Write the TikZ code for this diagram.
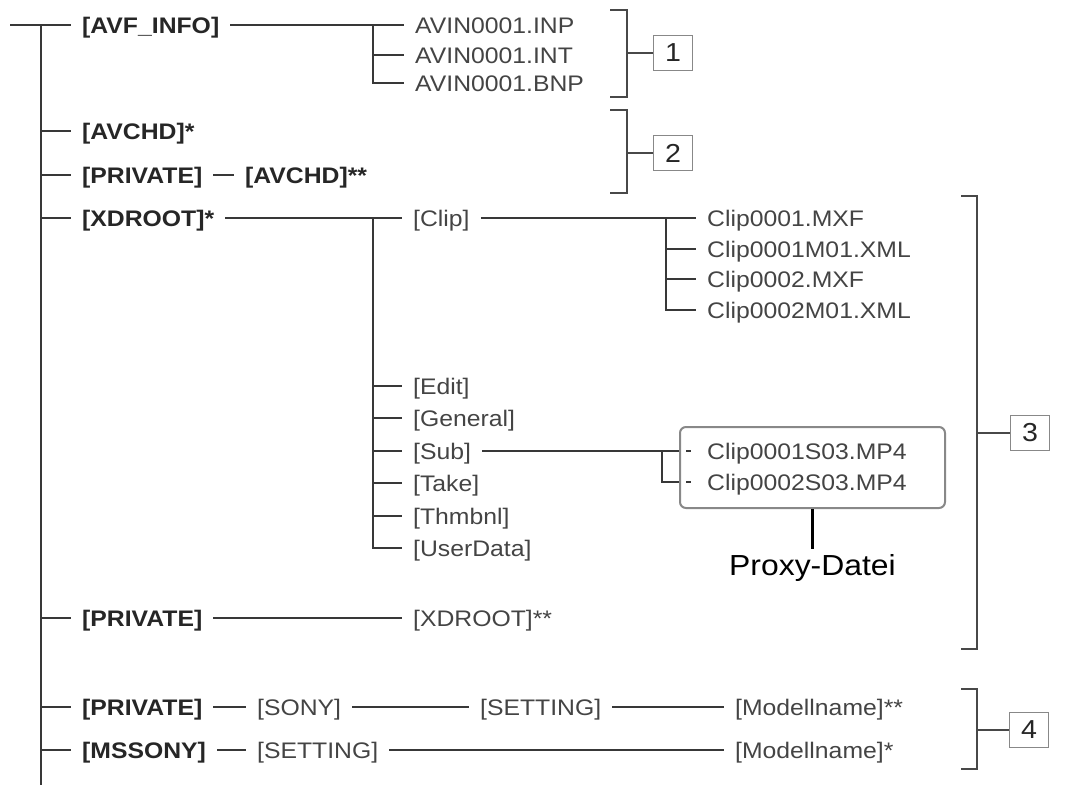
\documentclass[tikz,border=0pt]{standalone}
\usepackage{fontspec}
\setmainfont{Liberation Sans}[FakeStretch=1.1]
\usetikzlibrary{calc}
\definecolor{ink}{HTML}{262626}
\definecolor{grayt}{HTML}{444444}
\definecolor{lne}{HTML}{383838}
\definecolor{brkc}{HTML}{484848}
\definecolor{boxc}{HTML}{888888}
\begin{document}
\begin{tikzpicture}[x=1pt,y=-1pt,
  lbl/.style={anchor=west,inner xsep=11pt,inner ysep=0pt,text height=16.1pt,text depth=0pt},
  bl/.style={lbl,text=ink,font=\fontsize{22.5}{27}\selectfont\bfseries},
  gl/.style={lbl,text=grayt,font=\fontsize{22.5}{27}\selectfont},
  ln/.style={draw=lne,line width=2pt},
  brk/.style={draw=brkc,line width=2pt},
  numbox/.style={draw=boxc,line width=1.6pt,minimum width=39pt,minimum height=35pt,inner sep=0pt,text=ink,font=\fontsize{26}{30}\selectfont},
]
\useasboundingbox (0,0) rectangle (1067,785);

% trunk
\coordinate (root) at (10,25);
\coordinate (ttop) at (41,25);
\coordinate (tbot) at (41,785);
\coordinate (t2) at (41,131);
\coordinate (t3) at (41,175);
\coordinate (t4) at (41,218);
\coordinate (t5) at (41,618);
\coordinate (t6) at (41,707);
\coordinate (t7) at (41,750);

% level 1 labels
\node[bl] (avf) at (71,25) {[AVF\_INFO]};
\node[bl] (avchd) at (71,131) {[AVCHD]*};
\node[bl] (priv1) at (71,175) {[PRIVATE]};
\node[bl] (avchd2) at (234,175) {[AVCHD]**};
\node[bl] (xd) at (71,218) {[XDROOT]*};
\node[bl] (priv2) at (71,618) {[PRIVATE]};
\node[bl] (priv3) at (71,707) {[PRIVATE]};
\node[bl] (mss) at (71,750) {[MSSONY]};

\draw[ln] (ttop) -- (tbot);
\draw[ln] (root) -- (avf.west);
\foreach \t/\n in {t2/avchd,t3/priv1,t4/xd,t5/priv2,t6/priv3,t7/mss}
  \draw[ln] (\t) -- (\n.west);
\draw[ln] (priv1.east) -- (avchd2.west);

% AVF_INFO files
\node[gl] (f1) at (404,25) {AVIN0001.INP};
\node[gl] (f2) at (404,55) {AVIN0001.INT};
\node[gl] (f3) at (404,83) {AVIN0001.BNP};
\coordinate (j1) at (373,25);
\coordinate (j1b) at (373,55);
\coordinate (j1c) at (373,83);
\draw[ln] (avf.east) -- (f1.west);
\draw[ln] (j1) -- (j1c) -- (f3.west);
\draw[ln] (j1b) -- (f2.west);

% XDROOT subfolders
\node[gl] (clip) at (402,218) {[Clip]};
\node[gl] (edit) at (402,386) {[Edit]};
\node[gl] (gen) at (402,418) {[General]};
\node[gl] (sub) at (402,451) {[Sub]};
\node[gl] (take) at (402,483) {[Take]};
\node[gl] (thm) at (402,516) {[Thmbnl]};
\node[gl] (ud) at (402,548) {[UserData]};
\coordinate (j2) at (373,218);
\coordinate (j2e) at (373,548);
\draw[ln] (xd.east) -- (clip.west);
\draw[ln] (j2) -- (j2e) -- (ud.west);
\foreach \n in {edit,gen,sub,take,thm}
  \draw[ln] (j2 |- \n.west) -- (\n.west);

% Clip files
\node[gl] (c1) at (696,218) {Clip0001.MXF};
\node[gl] (c2) at (696,249) {Clip0001M01.XML};
\node[gl] (c3) at (696,279) {Clip0002.MXF};
\node[gl] (c4) at (696,310) {Clip0002M01.XML};
\coordinate (j3) at (666,218);
\coordinate (j3e) at (666,310);
\draw[ln] (clip.east) -- (c1.west);
\draw[ln] (j3) -- (j3e) -- (c4.west);
\draw[ln] (j3 |- c2.west) -- (c2.west);
\draw[ln] (j3 |- c3.west) -- (c3.west);

% proxy box
\node[draw=boxc,line width=2pt,rounded corners=6pt,minimum width=265pt,minimum height=81pt,inner sep=0pt] (pbox) at (812.5,467.5) {};
\node[gl] (s1) at (696,451) {Clip0001S03.MP4};
\node[gl] (s2) at (696,482) {Clip0002S03.MP4};
\coordinate (j4) at (662,451);
\coordinate (j4e) at (662,482);
\draw[ln] (sub.east) -- (pbox.west |- s1.west);
\draw[ln] (j4) -- (j4e) -- (pbox.west |- s2.west);
\draw[ln,line width=1.6pt] ([xshift=7pt]pbox.west |- s1.west) -- ([xshift=12pt]pbox.west |- s1.west);
\draw[ln,line width=1.6pt] ([xshift=7pt]pbox.west |- s2.west) -- ([xshift=12pt]pbox.west |- s2.west);
\node[inner sep=0pt,text=black,font=\fontsize{29}{33}\selectfont] (proxy) at (812.5,568) {Proxy-Datei};
\draw[draw=black,line width=3pt,shorten >=5pt] (pbox.south) -- (proxy.north);

% PRIVATE / XDROOT
\node[gl] (xd2) at (402,618) {[XDROOT]**};
\draw[ln] (priv2.east) -- (xd2.west);

% PRIVATE / SONY / SETTING
\node[gl] (sony) at (246,707) {[SONY]};
\node[gl] (set1) at (469,707) {[SETTING]};
\node[gl] (mod1) at (724,707) {[Modellname]**};
\draw[ln] (priv3.east) -- (sony.west);
\draw[ln] (sony.east) -- (set1.west);
\draw[ln] (set1.east) -- (mod1.west);

% MSSONY / SETTING
\node[gl] (set2) at (246,750) {[SETTING]};
\node[gl] (mod2) at (724,750) {[Modellname]*};
\draw[ln] (mss.east) -- (set2.west);
\draw[ln] (set2.east) -- (mod2.west);

% brackets and numbers
\node[numbox] (n1) at (673,53) {1};
\node[numbox] (n2) at (673,153) {2};
\node[numbox] (n3) at (1030,433) {3};
\node[numbox] (n4) at (1029,730) {4};

\coordinate (b1a) at (610,10);
\coordinate (b1b) at (627,10);
\coordinate (b1c) at (627,97);
\coordinate (b1d) at (610,97);
\draw[brk] (b1a) -- (b1b) -- (b1c) -- (b1d);
\draw[brk] (b1b |- n1.west) -- (n1.west);

\coordinate (b2a) at (610,110);
\coordinate (b2b) at (627,110);
\coordinate (b2c) at (627,193);
\coordinate (b2d) at (610,193);
\draw[brk] (b2a) -- (b2b) -- (b2c) -- (b2d);
\draw[brk] (b2b |- n2.west) -- (n2.west);

\coordinate (b3a) at (961,196);
\coordinate (b3b) at (977,196);
\coordinate (b3c) at (977,649);
\coordinate (b3d) at (961,649);
\draw[brk] (b3a) -- (b3b) -- (b3c) -- (b3d);
\draw[brk] (b3b |- n3.west) -- (n3.west);

\coordinate (b4a) at (961,689);
\coordinate (b4b) at (977,689);
\coordinate (b4c) at (977,769);
\coordinate (b4d) at (961,769);
\draw[brk] (b4a) -- (b4b) -- (b4c) -- (b4d);
\draw[brk] (b4b |- n4.west) -- (n4.west);
\end{tikzpicture}
\end{document}
